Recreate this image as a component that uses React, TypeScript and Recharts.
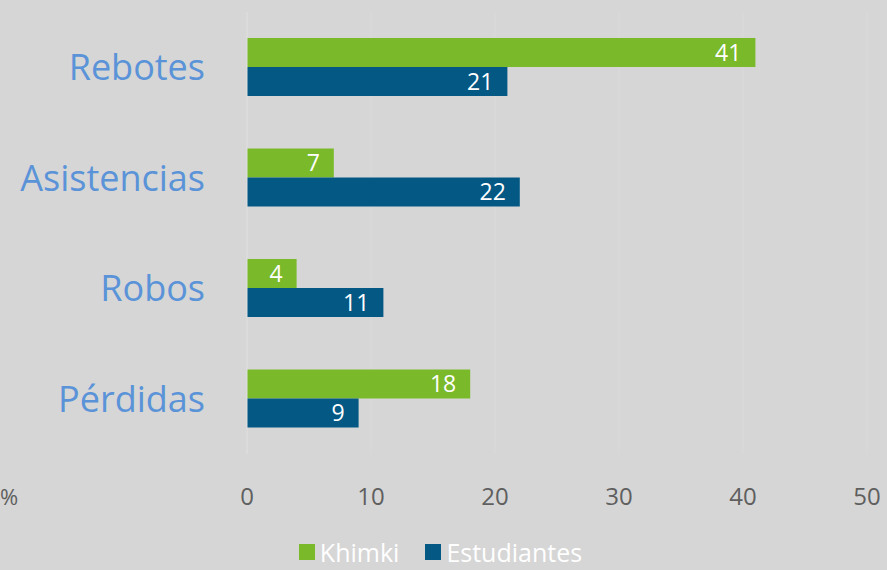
import React from "react";
import { BarChart, Bar, XAxis, YAxis, CartesianGrid, Legend, LabelList } from "recharts";

const categories = ["Rebotes", "Asistencias", "Robos", "Pérdidas"];
const khimki = [41, 7, 4, 18];
const estudiantes = [21, 22, 11, 9];
const xTicks = [0, 10, 20, 30, 40, 50];
const seriesNames = { khimki: "Khimki", estudiantes: "Estudiantes" };

const GREEN = "#7ab929";
const BLUE = "#035884";
const FONT = "'Open Sans', 'Noto Sans', sans-serif";

const data = categories.map((c, i) => ({ name: c, khimki: khimki[i], estudiantes: estudiantes[i] }));

const YTick = (props: any) => {
  const { x, y, payload } = props;
  return (
    <text x={x - 34} y={y} dy={13} textAnchor="end" fill="#5a93d8" fontSize={36} fontFamily={FONT}>
      {payload.value}
    </text>
  );
};

const XTick = (props: any) => {
  const { x, y, payload } = props;
  return (
    <text x={x} y={y} dy={43} textAnchor="middle" fill="#5f5f5f" fontSize={24} fontFamily={FONT}>
      {payload.value}
    </text>
  );
};

const LegendContent = () => (
  <div style={{ height: 30, display: "flex", justifyContent: "center", alignItems: "center", fontFamily: FONT, fontSize: 25, lineHeight: "28px", color: "#ffffff", paddingLeft: 14 }}>
    <span style={{ display: "flex", alignItems: "center", marginRight: 26 }}>
      <span style={{ width: 16, height: 16, background: GREEN, display: "inline-block", marginRight: 5 }} />
      {seriesNames.khimki}
    </span>
    <span style={{ display: "flex", alignItems: "center" }}>
      <span style={{ width: 16, height: 16, background: BLUE, display: "inline-block", marginRight: 5 }} />
      {seriesNames.estudiantes}
    </span>
  </div>
);

export default function App() {
  return (
    <div style={{ position: "absolute", left: 0, top: 0, width: 887, height: 570, background: "#d6d6d6", overflow: "hidden" }}>
      <div style={{ position: "absolute", left: 0, top: 481, fontFamily: FONT, fontSize: 22, color: "#5f5f5f", lineHeight: "30px" }}>%</div>
      <BarChart
        width={887}
        height={570}
        layout="vertical"
        data={data}
        margin={{ top: 12, right: 20, bottom: 3, left: 0 }}
        barCategoryGap={26}
        barGap={0}
      >
        <CartesianGrid horizontal={false} stroke="#dadada" strokeWidth={1} />
        <XAxis
          type="number"
          domain={[0, 50]}
          ticks={xTicks}
          axisLine={false}
          tickLine={false}
          height={83}
          tick={<XTick />}
          interval={0}
        />
        <YAxis
          type="category"
          dataKey="name"
          width={247}
          axisLine={{ stroke: "#dedede" }}
          tickLine={false}
          tick={<YTick />}
        />
        <Legend verticalAlign="bottom" content={<LegendContent />} />
        <Bar dataKey="khimki" name={seriesNames.khimki} fill={GREEN} barSize={29} isAnimationActive={false}>
          <LabelList dataKey="khimki" position="insideRight" offset={14} fill="#ffffff" fontSize={23} fontFamily={FONT} />
        </Bar>
        <Bar dataKey="estudiantes" name={seriesNames.estudiantes} fill={BLUE} barSize={29} isAnimationActive={false}>
          <LabelList dataKey="estudiantes" position="insideRight" offset={14} fill="#ffffff" fontSize={23} fontFamily={FONT} />
        </Bar>
      </BarChart>
    </div>
  );
}
